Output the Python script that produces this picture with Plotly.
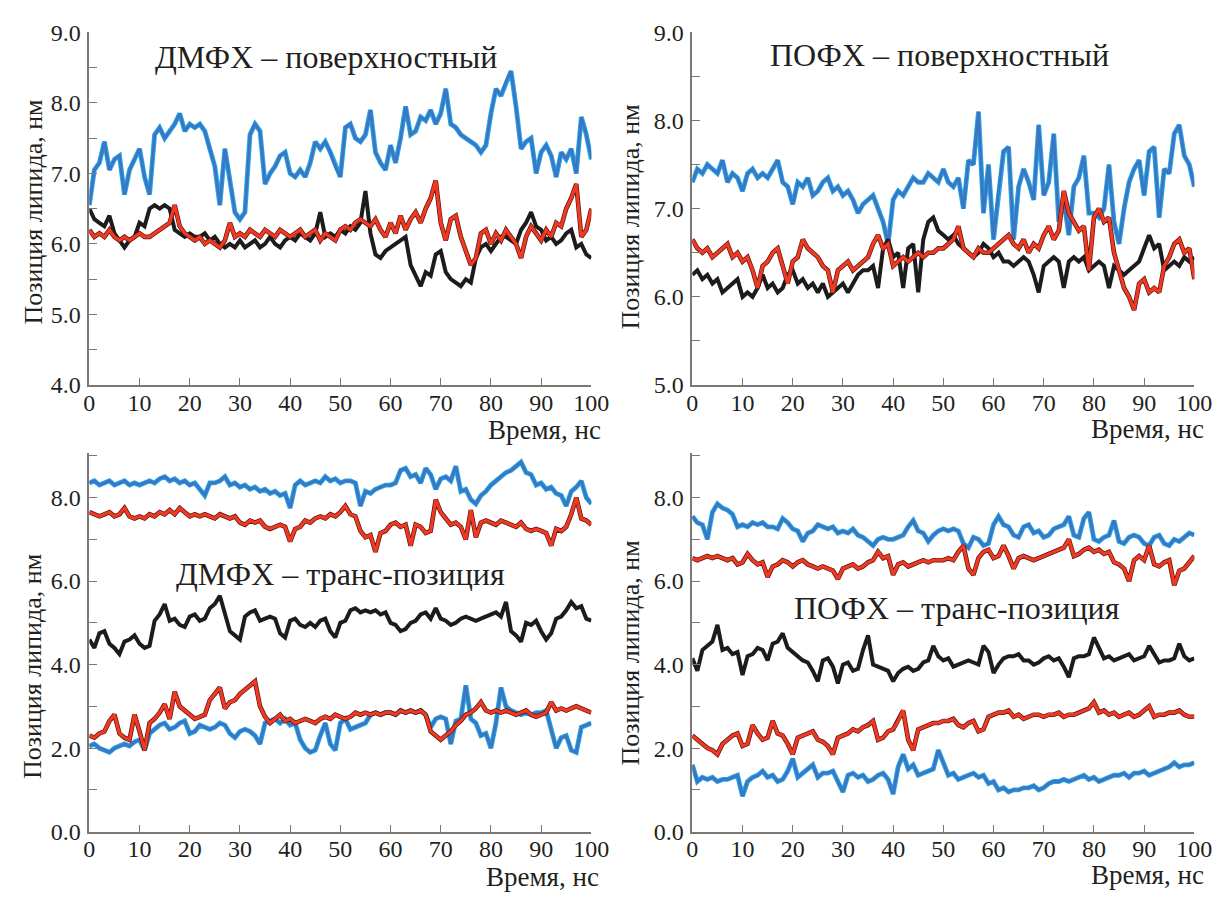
import plotly.graph_objects as go

time_ns = list(range(0, 101))

# --- ДМФХ – поверхностный (top-left) ---
dmpc_surf_blue = [
    6.55, 7.05, 7.15, 7.45, 7.05, 7.2, 7.25, 6.7, 7.05, 7.2,
    7.35, 6.95, 6.7, 7.55, 7.65, 7.5, 7.6, 7.7, 7.85, 7.6,
    7.7, 7.65, 7.7, 7.6, 7.35, 7.1, 6.55, 7.35, 6.9, 6.45,
    6.35, 6.45, 7.55, 7.7, 7.6, 6.85, 7.0, 7.1, 7.25, 7.3,
    7.0, 6.95, 7.05, 6.95, 7.15, 7.45, 7.35, 7.45, 7.3, 7.1,
    6.95, 7.65, 7.7, 7.5, 7.45, 7.55, 7.9, 7.3, 7.15, 7.05,
    7.4, 7.15, 7.5, 7.95, 7.55, 7.6, 7.8, 7.75, 7.9, 7.7,
    7.85, 8.2, 7.7, 7.65, 7.55, 7.5, 7.45, 7.4, 7.3, 7.4,
    7.85, 8.2, 8.1, 8.3, 8.45, 7.95, 7.35, 7.45, 7.5, 7.0,
    7.3, 7.4, 7.25, 6.95, 7.3, 7.2, 7.35, 7.0, 7.8, 7.55,
    7.2]
dmpc_surf_black = [
    6.5, 6.35, 6.3, 6.25, 6.4, 6.15, 6.05, 5.95, 6.05, 6.1,
    6.3, 6.25, 6.5, 6.55, 6.5, 6.55, 6.5, 6.2, 6.15, 6.1,
    6.15, 6.1, 6.1, 6.15, 6.05, 6.1, 6.0, 5.95, 6.0, 5.95,
    6.05, 5.95, 6.0, 6.05, 5.95, 6.0, 6.1, 6.0, 5.95, 6.05,
    6.1, 6.05, 6.15, 6.1, 6.05, 6.15, 6.45, 6.1, 6.15, 6.1,
    6.2, 6.15, 6.25, 6.2, 6.3, 6.75, 6.15, 5.85, 5.8, 5.9,
    5.95, 6.0, 6.05, 6.1, 5.7, 5.55, 5.4, 5.6, 5.55, 5.85,
    5.9, 5.6, 5.5, 5.45, 5.4, 5.5, 5.45, 5.8, 5.95, 6.0,
    5.9, 6.0, 6.1, 6.1, 6.05, 6.0, 6.2, 6.3, 6.45, 6.25,
    6.2, 6.05, 6.1, 6.0, 6.05, 6.15, 6.2, 5.95, 6.0, 5.85,
    5.8]
dmpc_surf_red = [
    6.2, 6.1, 6.15, 6.1, 6.2, 6.1, 6.05, 6.1, 6.05, 6.1,
    6.15, 6.1, 6.1, 6.15, 6.2, 6.25, 6.3, 6.55, 6.25, 6.15,
    6.1, 6.05, 6.1, 6.0, 6.05, 6.0, 5.95, 6.05, 6.3, 6.1,
    6.15, 6.1, 6.2, 6.15, 6.1, 6.2, 6.15, 6.1, 6.2, 6.15,
    6.1, 6.15, 6.2, 6.1, 6.15, 6.2, 6.05, 6.15, 6.1, 6.05,
    6.2, 6.25, 6.2, 6.3, 6.35, 6.3, 6.25, 6.35, 6.2, 6.1,
    6.3, 6.15, 6.4, 6.2, 6.35, 6.45, 6.3, 6.5, 6.65, 6.9,
    6.3, 6.05, 6.35, 6.4, 6.1, 5.9, 5.7, 5.8, 6.15, 6.2,
    6.0, 6.15, 6.05, 6.2, 6.1, 6.0, 5.8, 6.1, 6.25, 6.15,
    6.05, 6.2, 6.1, 6.3, 6.25, 6.5, 6.65, 6.85, 6.1, 6.2,
    6.5]

# --- ПОФХ – поверхностный (top-right) ---
popc_surf_blue = [
    7.3, 7.45, 7.4, 7.5, 7.45, 7.4, 7.55, 7.3, 7.4, 7.35,
    7.2, 7.4, 7.45, 7.35, 7.4, 7.35, 7.45, 7.55, 7.3, 7.25,
    7.05, 7.3, 7.25, 7.35, 7.15, 7.2, 7.3, 7.35, 7.2, 7.25,
    7.15, 7.2, 7.1, 6.95, 7.05, 7.1, 7.15, 7.0, 6.85, 6.6,
    7.1, 7.2, 7.15, 7.25, 7.35, 7.3, 7.3, 7.4, 7.35, 7.3,
    7.45, 7.3, 7.25, 7.35, 7.0, 7.55, 7.5, 8.1, 6.95, 7.5,
    6.65, 7.2, 7.65, 7.7, 6.65, 7.25, 7.45, 7.3, 7.1, 7.95,
    7.15, 7.3, 7.85, 6.85, 7.1, 6.7, 7.25, 7.35, 7.6, 6.95,
    6.95, 6.9, 7.0, 7.5, 6.85, 6.6, 7.0, 7.3, 7.45, 7.55,
    7.15, 7.65, 7.7, 6.9, 7.45, 7.4, 7.85, 7.95, 7.6, 7.5,
    7.25]
popc_surf_black = [
    6.25, 6.3, 6.2, 6.25, 6.15, 6.2, 6.05, 6.1, 6.15, 6.2,
    6.0, 6.05, 6.0, 6.1, 6.25, 6.1, 6.15, 6.05, 6.1, 6.25,
    6.3, 6.15, 6.2, 6.1, 6.15, 6.05, 6.15, 6.0, 6.05, 6.1,
    6.15, 6.05, 6.15, 6.25, 6.3, 6.3, 6.35, 6.1, 6.55, 6.65,
    6.45, 6.5, 6.1, 6.55, 6.6, 6.05, 6.65, 6.85, 6.9, 6.75,
    6.7, 6.65, 6.7, 6.6, 6.55, 6.5, 6.45, 6.5, 6.6, 6.55,
    6.45, 6.5, 6.4, 6.4, 6.35, 6.4, 6.45, 6.4, 6.25, 6.05,
    6.35, 6.4, 6.45, 6.4, 6.1, 6.4, 6.45, 6.4, 6.45, 6.3,
    6.35, 6.4, 6.35, 6.1, 6.35, 6.3, 6.25, 6.3, 6.35, 6.4,
    6.55, 6.7, 6.55, 6.6, 6.3, 6.35, 6.4, 6.35, 6.45, 6.4,
    6.45]
popc_surf_red = [
    6.65, 6.55, 6.5, 6.55, 6.45, 6.5, 6.55, 6.6, 6.45, 6.5,
    6.4, 6.45, 6.3, 6.1, 6.35, 6.4, 6.5, 6.55, 6.35, 6.15,
    6.4, 6.45, 6.65, 6.55, 6.5, 6.45, 6.35, 6.3, 6.05, 6.3,
    6.35, 6.4, 6.3, 6.35, 6.4, 6.45, 6.6, 6.7, 6.55, 6.6,
    6.35, 6.4, 6.45, 6.4, 6.45, 6.5, 6.45, 6.5, 6.5, 6.55,
    6.55, 6.6, 6.65, 6.8, 6.55, 6.5, 6.45, 6.55, 6.5, 6.5,
    6.55, 6.6, 6.65, 6.7, 6.6, 6.55, 6.65, 6.5, 6.6, 6.55,
    6.7, 6.8, 6.65, 6.75, 7.2, 6.95, 6.85, 6.75, 6.8, 6.3,
    6.9, 7.0, 6.85, 6.9, 6.5, 6.3, 6.1, 6.0, 5.85, 6.15,
    6.2, 6.05, 6.1, 6.05, 6.35, 6.45, 6.6, 6.65, 6.5, 6.55,
    6.2]

# --- ДМФХ – транс-позиция (bottom-left) ---
dmpc_trans_blue_top = [
    8.35, 8.4, 8.3, 8.35, 8.4, 8.3, 8.35, 8.4, 8.3, 8.35,
    8.3, 8.35, 8.4, 8.35, 8.45, 8.5, 8.4, 8.45, 8.35, 8.4,
    8.3, 8.35, 8.2, 8.05, 8.35, 8.35, 8.4, 8.5, 8.3, 8.35,
    8.25, 8.3, 8.2, 8.25, 8.15, 8.2, 8.1, 8.15, 8.05, 8.1,
    7.75, 8.3, 8.4, 8.3, 8.35, 8.4, 8.35, 8.5, 8.4, 8.45,
    8.35, 8.4, 8.4, 8.35, 7.8, 8.15, 8.1, 8.2, 8.25, 8.3,
    8.3, 8.35, 8.65, 8.7, 8.5, 8.55, 8.35, 8.7, 8.55, 8.2,
    8.45, 8.5, 8.4, 8.75, 8.15, 8.2, 7.95, 7.85, 8.05, 8.15,
    8.3, 8.4, 8.5, 8.6, 8.65, 8.75, 8.85, 8.6, 8.55, 8.3,
    8.35, 8.2, 8.25, 8.1, 8.05, 7.8, 8.15, 8.25, 8.4, 8.0,
    7.85]
dmpc_trans_red_top = [
    7.65, 7.6, 7.55, 7.6, 7.65, 7.55, 7.6, 7.75, 7.55, 7.5,
    7.55, 7.5, 7.6, 7.55, 7.65, 7.6, 7.7, 7.6, 7.75, 7.65,
    7.55, 7.6, 7.55, 7.6, 7.55, 7.5, 7.6, 7.55, 7.5, 7.55,
    7.4, 7.35, 7.45, 7.4, 7.45, 7.3, 7.25, 7.3, 7.35, 7.3,
    6.95, 7.25, 7.3, 7.45, 7.4, 7.5, 7.55, 7.5, 7.6, 7.55,
    7.65, 7.8, 7.6, 7.55, 7.2, 7.05, 7.1, 6.7, 7.15, 7.2,
    7.35, 7.4, 7.3, 7.35, 6.85, 7.35, 7.3, 7.15, 7.2, 7.95,
    7.65, 7.5, 7.35, 7.4, 7.3, 7.0, 7.7, 7.05, 7.4, 7.45,
    7.4, 7.35, 7.45, 7.4, 7.35, 7.3, 7.4, 7.25, 7.2, 7.25,
    7.2, 7.15, 6.85, 7.25, 7.2, 7.3, 7.6, 8.0, 7.5, 7.45,
    7.35]
dmpc_trans_black = [
    4.6, 4.4, 4.75, 4.8, 4.5, 4.4, 4.25, 4.55, 4.6, 4.7,
    4.5, 4.4, 4.45, 5.05, 5.2, 5.45, 5.05, 5.1, 4.95, 4.9,
    5.15, 5.2, 5.05, 5.1, 5.35, 5.45, 5.65, 5.25, 4.8, 4.7,
    4.6, 5.15, 5.25, 5.3, 5.05, 5.1, 5.15, 5.1, 4.75, 4.65,
    5.05, 5.1, 4.95, 4.9, 5.0, 4.9, 5.05, 5.1, 4.8, 4.65,
    5.0, 5.05, 5.3, 5.35, 5.25, 5.3, 5.25, 5.3, 5.2, 5.25,
    5.0, 4.95, 4.8, 4.85, 5.0, 5.05, 5.2, 5.25, 5.1, 5.35,
    5.1, 5.05, 4.95, 5.0, 5.1, 5.15, 5.1, 5.05, 5.1, 5.15,
    5.2, 5.25, 5.15, 5.5, 4.8, 4.7, 4.55, 5.0, 4.95, 5.05,
    4.8, 4.6, 4.75, 5.1, 5.15, 5.3, 5.5, 5.35, 5.4, 5.1,
    5.05]
dmpc_trans_red_low = [
    2.3, 2.25, 2.35, 2.4, 2.65, 2.8, 2.35, 2.25, 2.2, 2.8,
    2.4, 1.95, 2.6, 2.7, 2.85, 3.05, 2.7, 3.35, 3.0, 2.9,
    2.8, 2.7, 2.75, 2.8, 3.15, 3.3, 3.45, 2.95, 3.1, 3.15,
    3.3, 3.4, 3.5, 3.6, 3.0, 2.75, 2.6, 2.7, 2.8, 2.65,
    2.7, 2.6, 2.65, 2.7, 2.65, 2.6, 2.7, 2.75, 2.7, 2.8,
    2.75, 2.7, 2.75, 2.85, 2.8, 2.85, 2.8, 2.85, 2.8, 2.85,
    2.85, 2.8, 2.9, 2.85, 2.9, 2.85, 2.9, 2.8, 2.4, 2.3,
    2.2, 2.3, 2.4, 2.55, 2.65, 2.8, 2.85, 2.95, 3.1, 2.9,
    2.85, 2.9, 2.85, 2.9, 2.85, 2.8, 2.85, 2.9, 2.8, 2.75,
    2.8, 2.85, 3.1, 2.9, 2.95, 2.9, 2.95, 3.0, 2.95, 2.9,
    2.85]
dmpc_trans_blue_low = [
    2.05, 2.1, 2.0, 1.95, 1.9, 2.0, 2.05, 2.1, 2.05, 2.15,
    2.2, 1.95, 2.35, 2.45, 2.55, 2.6, 2.45, 2.5, 2.6, 2.65,
    2.35, 2.4, 2.55, 2.5, 2.45, 2.5, 2.6, 2.55, 2.35, 2.25,
    2.4, 2.45, 2.4, 2.3, 2.1, 2.6, 2.65, 2.7, 2.6, 2.7,
    2.55, 2.6, 2.2, 2.0, 1.9, 1.95, 2.3, 2.6, 2.1, 1.95,
    2.6, 2.7, 2.45, 2.5, 2.55, 2.6, 2.8, 2.85, 2.8, 2.85,
    2.85, 2.8, 2.9, 2.85, 2.9, 2.85, 2.9, 2.8, 2.5, 2.7,
    2.75, 2.7, 2.1, 2.65, 2.7, 3.5, 2.7, 2.6, 2.3, 2.35,
    2.0, 2.6, 3.45, 3.0, 2.9, 2.85, 2.8, 2.85, 2.8, 2.85,
    2.85, 2.9, 2.45, 2.0, 2.25, 2.3, 1.95, 1.9, 2.5, 2.55,
    2.6]

# --- ПОФХ – транс-позиция (bottom-right) ---
popc_trans_blue_top = [
    7.55, 7.4, 7.35, 7.0, 7.65, 7.85, 7.75, 7.7, 7.6, 7.3,
    7.35, 7.3, 7.4, 7.35, 7.4, 7.3, 7.3, 7.25, 7.5, 7.4,
    7.25, 7.2, 6.95, 7.15, 7.2, 7.35, 7.3, 7.25, 7.3, 7.15,
    7.2, 7.15, 7.25, 7.1, 7.05, 6.95, 6.85, 7.0, 7.05, 7.0,
    7.0, 7.05, 7.1, 7.3, 7.45, 7.2, 7.15, 6.95, 7.1, 7.2,
    7.25, 7.2, 7.25, 7.2, 6.9, 6.8, 7.05, 7.0, 6.85, 6.9,
    7.35, 7.55, 7.35, 7.3, 7.1, 7.05, 7.3, 7.35, 7.15, 7.2,
    7.05, 7.1, 7.25, 7.3, 7.35, 7.55, 7.1, 7.05, 7.5, 7.65,
    7.0, 6.95, 7.05, 7.1, 7.45, 6.95, 6.9, 7.05, 7.1, 7.05,
    6.9, 6.85, 7.05, 7.1, 6.9, 6.85, 7.0, 6.95, 7.05, 7.15,
    7.1]
popc_trans_red_top = [
    6.55, 6.5, 6.55, 6.6, 6.55, 6.6, 6.55, 6.5, 6.55, 6.4,
    6.45, 6.65, 6.5, 6.4, 6.45, 6.1, 6.35, 6.4, 6.5, 6.45,
    6.35, 6.45, 6.5, 6.4, 6.35, 6.3, 6.35, 6.3, 6.25, 6.05,
    6.3, 6.35, 6.4, 6.3, 6.35, 6.45, 6.5, 6.7, 6.55, 6.6,
    6.15, 6.4, 6.45, 6.35, 6.4, 6.45, 6.5, 6.45, 6.5, 6.5,
    6.5, 6.55, 6.5, 6.7, 6.85, 6.3, 6.15, 6.55, 6.7, 6.75,
    6.55, 6.6, 6.85, 6.6, 6.3, 6.55, 6.6, 6.55, 6.5, 6.55,
    6.6, 6.65, 6.7, 6.75, 6.8, 7.0, 6.6, 6.65, 6.75, 6.8,
    6.7, 6.75, 6.65, 6.7, 6.45, 6.4, 6.3, 6.0, 6.5, 6.6,
    6.5, 6.85, 6.4, 6.35, 6.45, 6.5, 5.9, 6.25, 6.3, 6.45,
    6.6]
popc_trans_black = [
    4.15, 3.85, 4.35, 4.45, 4.55, 4.95, 4.35, 4.4, 4.25, 4.3,
    3.75, 4.2, 4.25, 4.4, 4.35, 4.1, 4.5, 4.55, 4.75, 4.4,
    4.3, 4.2, 4.1, 4.05, 3.85, 3.6, 4.1, 4.15, 3.95, 3.55,
    4.0, 4.05, 3.85, 3.9, 4.35, 4.7, 4.0, 3.95, 3.9, 3.85,
    3.6, 3.8, 3.9, 3.95, 3.85, 3.9, 4.05, 4.1, 4.45, 4.2,
    4.1, 4.15, 3.95, 4.0, 4.05, 4.1, 4.05, 4.0, 4.45, 4.3,
    3.8, 4.0, 4.15, 4.2, 4.2, 4.25, 4.1, 4.1, 4.0, 4.05,
    4.15, 4.2, 4.1, 4.15, 3.95, 3.7, 4.15, 4.2, 4.2, 4.25,
    4.65, 4.4, 4.15, 4.2, 4.1, 4.15, 4.2, 4.25, 4.1, 4.15,
    4.2, 4.45, 4.25, 4.05, 4.1, 4.1, 4.15, 4.5, 4.2, 4.1,
    4.15]
popc_trans_red_low = [
    2.3, 2.2, 2.1, 2.0, 1.95, 1.85, 2.1, 2.2, 2.3, 2.35,
    2.05, 2.1, 2.55, 2.35, 2.2, 2.25, 2.65, 2.35, 2.3, 2.1,
    1.85, 2.25, 2.3, 2.35, 2.4, 2.2, 2.15, 2.05, 1.85, 2.25,
    2.3, 2.35, 2.45, 2.4, 2.5, 2.55, 2.65, 2.2, 2.25, 2.4,
    2.45, 2.65, 2.9, 2.2, 1.95, 2.45, 2.5, 2.55, 2.6, 2.6,
    2.65, 2.65, 2.7, 2.55, 2.5, 2.6, 2.65, 2.4, 2.45, 2.75,
    2.8, 2.85, 2.85, 2.9, 2.75, 2.8, 2.7, 2.75, 2.8, 2.8,
    2.75, 2.8, 2.8, 2.85, 2.75, 2.8, 2.8, 2.85, 2.9, 2.95,
    3.1, 2.85, 2.9, 2.8, 2.85, 2.75, 2.8, 2.85, 2.75, 2.8,
    2.9, 3.0, 2.75, 2.8, 2.8, 2.85, 2.85, 2.9, 2.8, 2.75,
    2.75]
popc_trans_blue_low = [
    1.6, 1.2, 1.3, 1.25, 1.3, 1.2, 1.25, 1.25, 1.3, 1.35,
    0.85, 1.2, 1.3, 1.35, 1.45, 1.3, 1.35, 1.2, 1.25, 1.45,
    1.75, 1.3, 1.4, 1.5, 1.6, 1.3, 1.4, 1.4, 1.45, 1.2,
    0.95, 1.35, 1.4, 1.3, 1.35, 1.2, 1.25, 1.35, 1.4, 1.25,
    0.9, 1.55, 1.85, 1.5, 1.6, 1.35, 1.4, 1.45, 1.5, 1.95,
    1.65, 1.35, 1.4, 1.25, 1.3, 1.35, 1.4, 1.3, 1.35, 1.15,
    1.2, 1.0, 1.05, 0.95, 1.0, 1.0, 1.05, 1.05, 1.1, 1.0,
    1.05, 1.15, 1.2, 1.2, 1.25, 1.2, 1.25, 1.3, 1.35, 1.25,
    1.3, 1.2, 1.25, 1.3, 1.35, 1.35, 1.4, 1.3, 1.4, 1.4,
    1.45, 1.35, 1.4, 1.45, 1.5, 1.55, 1.65, 1.55, 1.6, 1.6,
    1.65]

panel_titles = ["ДМФХ – поверхностный", "ПОФХ – поверхностный",
                "ДМФХ – транс-позиция", "ПОФХ – транс-позиция"]
y_title = "Позиция липида, нм"
x_title = "Время, нс"
x_ticks = [0, 10, 20, 30, 40, 50, 60, 70, 80, 90, 100]

FONT = "Liberation Serif"
TXT = "#231f20"
AX = "#7a7775"
BLUE_EDGE = "#26a7e3"
BLUE_CORE = "#3a76c4"
RED_EDGE = "#5c1212"
RED_CORE = "#ef3a22"
BLACK = "#1c1c1c"

W, H = 1229, 899
def px_x(p): return p / W
def px_y(p): return 1 - p / H

fig = go.Figure()

def add_series(y, axis, kind):
    xa, ya = axis
    if kind == "blue":
        fig.add_trace(go.Scatter(x=time_ns, y=y, mode="lines", xaxis=xa, yaxis=ya,
                                 line=dict(color=BLUE_EDGE, width=4.8), hoverinfo="skip", showlegend=False))
        fig.add_trace(go.Scatter(x=time_ns, y=y, mode="lines", xaxis=xa, yaxis=ya,
                                 line=dict(color=BLUE_CORE, width=2.8), showlegend=False))
    elif kind == "red":
        fig.add_trace(go.Scatter(x=time_ns, y=y, mode="lines", xaxis=xa, yaxis=ya,
                                 line=dict(color=RED_EDGE, width=4.6), hoverinfo="skip", showlegend=False))
        fig.add_trace(go.Scatter(x=time_ns, y=y, mode="lines", xaxis=xa, yaxis=ya,
                                 line=dict(color=RED_CORE, width=3.2), showlegend=False))
    else:
        fig.add_trace(go.Scatter(x=time_ns, y=y, mode="lines", xaxis=xa, yaxis=ya,
                                 line=dict(color=BLACK, width=4.0), showlegend=False))

# panel 1
add_series(dmpc_surf_blue, ("x", "y"), "blue")
add_series(dmpc_surf_black, ("x", "y"), "black")
add_series(dmpc_surf_red, ("x", "y"), "red")
# panel 2
add_series(popc_surf_blue, ("x2", "y2"), "blue")
add_series(popc_surf_black, ("x2", "y2"), "black")
add_series(popc_surf_red, ("x2", "y2"), "red")
# panel 3
add_series(dmpc_trans_blue_top, ("x3", "y3"), "blue")
add_series(dmpc_trans_red_top, ("x3", "y3"), "red")
add_series(dmpc_trans_black, ("x3", "y3"), "black")
add_series(dmpc_trans_blue_low, ("x3", "y3"), "blue")
add_series(dmpc_trans_red_low, ("x3", "y3"), "red")
# panel 4
add_series(popc_trans_blue_top, ("x4", "y4"), "blue")
add_series(popc_trans_red_top, ("x4", "y4"), "red")
add_series(popc_trans_black, ("x4", "y4"), "black")
add_series(popc_trans_blue_low, ("x4", "y4"), "blue")
add_series(popc_trans_red_low, ("x4", "y4"), "red")

left_dom = [px_x(85), px_x(597)]
right_dom = [px_x(700), px_x(1212)]
top_dom = [px_y(383), px_y(20)]
bot_dom = [px_y(843), px_y(453)]

def xax(dom, anchor):
    return dict(domain=dom, anchor=anchor, range=[0, 100], tickvals=x_ticks,
                ticks="inside", ticklen=7, tickwidth=1.3, tickcolor=AX,
                showline=True, linecolor=AX, linewidth=1.6, showgrid=False, zeroline=False,
                ticklabelstandoff=-5,
                tickfont=dict(family=FONT, size=24, color=TXT), fixedrange=True)

def yax(dom, anchor, rng, major, minor):
    return dict(domain=dom, anchor=anchor, range=rng, tickvals=major,
                ticktext=[f"{v:.1f}" for v in major],
                ticks="inside", ticklen=8, tickwidth=1.3, tickcolor=AX,
                minor=dict(tickvals=minor, ticks="inside", ticklen=8, tickwidth=1.3, tickcolor=AX, showgrid=False),
                showline=True, linecolor=AX, linewidth=1.6, showgrid=False, zeroline=False,
                ticklabelstandoff=2,
                tickfont=dict(family=FONT, size=24, color=TXT), fixedrange=True)

fig.update_layout(
    width=W, height=H, margin=dict(l=0, r=0, t=0, b=0),
    font=dict(family=FONT, color=TXT),
    paper_bgcolor="white", plot_bgcolor="white", showlegend=False,
    xaxis=xax(left_dom, "y"),
    yaxis=yax(top_dom, "x", [4, 9], [4, 5, 6, 7, 8, 9], [4.5, 5.5, 6.5, 7.5, 8.5]),
    xaxis2=xax(right_dom, "y2"),
    yaxis2=yax(top_dom, "x2", [5, 9], [5, 6, 7, 8, 9], [5.5, 6.5, 7.5, 8.5]),
    xaxis3=xax(left_dom, "y3"),
    yaxis3=yax(bot_dom, "x3", [0, 9.07], [0, 2, 4, 6, 8], [1, 3, 5, 7, 9]),
    xaxis4=xax(right_dom, "y4"),
    yaxis4=yax(bot_dom, "x4", [0, 9.07], [0, 2, 4, 6, 8], [1, 3, 5, 7, 9]),
)

ann = []
title_pos = [(326, 45), (952, 43), (341, 578), (970, 613)]
for t, (x, y) in zip(panel_titles, title_pos):
    ann.append(dict(text=t, x=px_x(x), y=px_y(y), xref="paper", yref="paper",
                    xanchor="center", yanchor="middle", showarrow=False,
                    font=dict(family=FONT, size=32, color=TXT)))
ytitle_pos = [(28, 205), (637, 210), (27, 673), (637, 659)]
for (x, y) in ytitle_pos:
    ann.append(dict(text=y_title, x=px_x(x), y=px_y(y), xref="paper", yref="paper",
                    xanchor="center", yanchor="middle", showarrow=False, textangle=-90,
                    font=dict(family=FONT, size=26, color=TXT)))
xtitle_pos = [(549, 429), (1164, 428), (547, 890), (1164, 888)]
for (x, y) in xtitle_pos:
    ann.append(dict(text=x_title, x=px_x(x), y=px_y(y), xref="paper", yref="paper",
                    xanchor="center", yanchor="middle", showarrow=False,
                    font=dict(family=FONT, size=27, color=TXT)))
fig.update_layout(annotations=ann)

fig.write_html("out.html")
